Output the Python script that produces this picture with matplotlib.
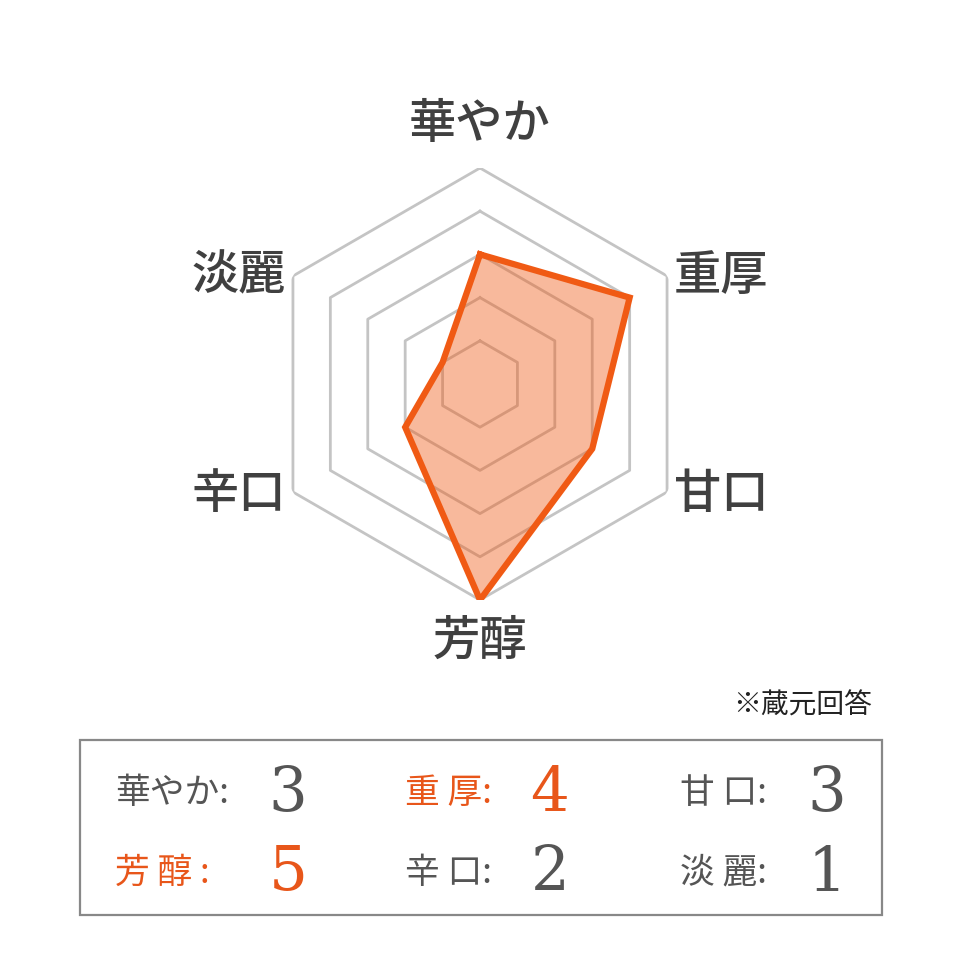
"""
Sake taste radar chart (brewery answer) with a score box underneath.
"""

import matplotlib
matplotlib.use("Agg")
import matplotlib.pyplot as plt
from matplotlib.patches import Rectangle
import numpy as np

plt.rcParams['font.family'] = ['Noto Sans CJK JP', 'DejaVu Sans']

# ------------------------------------------------------------------------

axis_names = ['華やか', '重厚', '甘口', '芳醇', '辛口', '淡麗']
scores = [3, 4, 3, 5, 2, 1]
levels = [1, 2, 3, 4, 5]
box_labels = ['華やか:', '重 厚:', '甘 口:', '芳 醇 :', '辛 口:', '淡 麗:']
highlight = [False, True, False, True, False, False]
note_text = '※蔵元回答'

GRID_C = '#c4c4c4'
LINE_C = '#f05a14'
TEXT_C = '#404040'
BOX_TEXT_C = '#555555'
HI_C = '#e8561a'

W = H = 960


def px(x, y):
    """pixel position (from top-left) to figure fraction"""
    return x / W, 1 - y / H


fig = plt.figure(figsize=(9.6, 9.6), dpi=100)

# radar: centre (480, 384), radius 216 px
cx, cy, rad = 480, 384, 216
ax = fig.add_axes([(cx - rad) / W, 1 - (cy + rad) / H, 2 * rad / W, 2 * rad / H],
                  projection='polar')
ax.set_theta_zero_location('N')
ax.set_theta_direction(-1)
ax.set_ylim(0, max(levels))
ax.set_xticks([])
ax.set_yticks([])
ax.grid(False)
ax.spines['polar'].set_visible(False)
ax.patch.set_alpha(0)

n = len(axis_names)
theta = np.arange(n) * 2 * np.pi / n
theta_closed = np.append(theta, theta[0])

for lev in levels:
    ax.plot(theta_closed, [lev] * (n + 1), color=GRID_C, lw=2.0, zorder=1)

vals_closed = scores + scores[:1]
ax.fill(theta_closed, vals_closed, color=LINE_C, alpha=0.42, lw=0, zorder=2)
ax.plot(theta_closed, vals_closed, color=LINE_C, lw=4.5, zorder=3,
        solid_joinstyle='miter')

# axis labels around the outer ring
label_offsets = [((0, 14), 'center', 'bottom'),
                 ((5, 0), 'left', 'center'),
                 ((5, -2), 'left', 'center'),
                 ((0, -12), 'center', 'top'),
                 ((-5, -2), 'right', 'center'),
                 ((-5, 0), 'right', 'center')]
for name, t, (off, ha, va) in zip(axis_names, theta, label_offsets):
    ax.annotate(name, xy=(t, max(levels)), xytext=off, textcoords='offset points',
                ha=ha, va=va, fontsize=34, color=TEXT_C, fontweight='medium',
                annotation_clip=False)

# note
fig.text(*px(872, 706), note_text, ha='right', va='center', fontsize=20,
         color='#222222')

# score box
bx0, by0, bx1, by1 = 80, 740, 882, 915
fig.patches.append(Rectangle(px(bx0, by1), (bx1 - bx0) / W, (by1 - by0) / H,
                             transform=fig.transFigure, fill=False,
                             edgecolor='#888888', lw=1.6))

col_label_x = [115, 405, 680]
col_num_x = [288, 550, 827]
row_y = [793, 873]
row_num_base = [810, 890]
for i, (lab, val, hi) in enumerate(zip(box_labels, scores, highlight)):
    r, c = divmod(i, 3)
    colour = HI_C if hi else BOX_TEXT_C
    fig.text(*px(col_label_x[c], row_y[r]), lab, ha='left', va='center',
             fontsize=25, color=colour)
    fig.text(*px(col_num_x[c], row_num_base[r]), str(val), ha='center',
             va='baseline', fontsize=44, color=colour, family='DejaVu Serif')

fig.savefig('out.png', dpi=100, facecolor='white')
